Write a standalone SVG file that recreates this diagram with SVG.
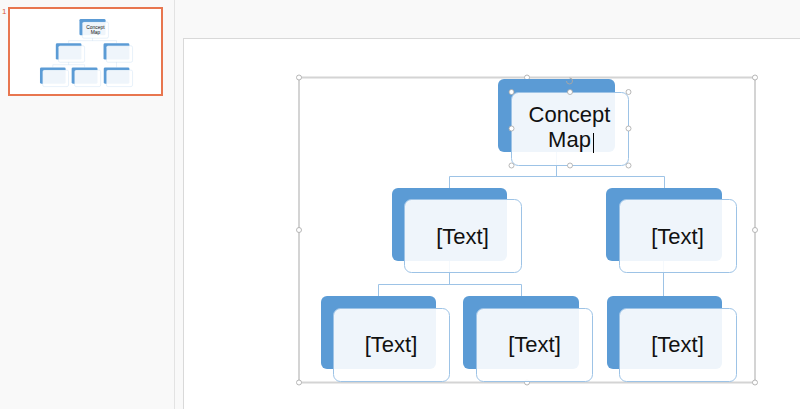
<svg xmlns="http://www.w3.org/2000/svg" width="800" height="409" viewBox="0 0 800 409">
<style>
.dark{fill:#5b9bd5}
.light{fill:#ffffff;fill-opacity:0.9;stroke:#9dc3e6;stroke-width:1}
.lbl{font-family:"Liberation Sans",Arial,sans-serif;font-size:22px;fill:#111;text-anchor:middle}
.conn{fill:none;stroke:#9dc3e6;stroke-width:1}
.h{fill:#fff;stroke:#a6a6a6;stroke-width:0.8}
</style>
<rect x="0" y="0" width="800" height="409" fill="#f9f9f9"/>
<line x1="174.5" y1="0" x2="174.5" y2="409" stroke="#e3e3e3"/>
<rect x="183.5" y="38.5" width="620" height="380" fill="#ffffff" stroke="#d9d9d9"/>

<g id="thumbnail-pane">
<text x="2" y="14" font-family="Liberation Sans,Arial,sans-serif" font-size="8" fill="#d9603b">1</text>
<rect x="9" y="8" width="153" height="87" fill="#ffffff" stroke="#e8764f" stroke-width="2"/>
<g transform="translate(-31.6,1.4) scale(0.223)">
<g class="conn" stroke-width="3">
<path d="M556.5 152V176M449.5 176H664M449.5 176V188M664 176V188M449.5 261V284M378.5 284H521M378.5 284V296M521 284V296M664 261V296"/>
</g>
<rect class="dark" x="498" y="79" width="117" height="73" rx="6"/>
<rect class="light" x="511" y="92" width="117" height="73" rx="7" stroke-width="4"/>
<rect class="dark" x="392" y="188" width="115" height="73" rx="6"/>
<rect class="light" x="404" y="199" width="117" height="74" rx="7" stroke-width="4"/>
<rect class="dark" x="606" y="188" width="116" height="73" rx="6"/>
<rect class="light" x="619" y="199" width="117" height="74" rx="7" stroke-width="4"/>
<rect class="dark" x="321" y="296" width="115" height="73" rx="6"/>
<rect class="light" x="333" y="308" width="116" height="74" rx="7" stroke-width="4"/>
<rect class="dark" x="463" y="296" width="116" height="73" rx="6"/>
<rect class="light" x="476" y="308" width="117" height="74" rx="7" stroke-width="4"/>
<rect class="dark" x="607" y="296" width="115" height="73" rx="6"/>
<rect class="light" x="619" y="308" width="117" height="74" rx="7" stroke-width="4"/>
<text class="lbl" x="569.5" y="122">Concept</text>
<text class="lbl" x="569.5" y="147">Map</text>
</g>
</g>

<g id="frame">
<rect x="299" y="77.5" width="456" height="305" fill="none" stroke="#d4d4d4" stroke-width="2"/>
<circle class="h" cx="299" cy="77.5" r="2.5"/>
<circle class="h" cx="527" cy="77.5" r="2.5"/>
<circle class="h" cx="755" cy="77.5" r="2.5"/>
<circle class="h" cx="299" cy="230" r="2.5"/>
<circle class="h" cx="755" cy="230" r="2.5"/>
<circle class="h" cx="299" cy="382.5" r="2.5"/>
<circle class="h" cx="527" cy="382.5" r="2.5"/>
<circle class="h" cx="755" cy="382.5" r="2.5"/>
</g>

<g id="connectors" class="conn">
<path d="M556.5 152V176.5M449.5 176.5H664.5M449.5 176.5V188M664.5 176.5V188"/>
<path d="M449.5 261V284.5M378.5 284.5H521.5M378.5 284.5V296M521.5 284.5V296"/>
<path d="M663.5 261V296"/>
</g>

<g id="node-root">
<rect class="dark" x="498" y="79" width="117" height="73" rx="6"/>
<rect class="light" x="511.5" y="92.5" width="117" height="73" rx="7"/>
<text class="lbl" x="569.5" y="122">Concept</text>
<text class="lbl" x="569.5" y="147">Map</text>
<line x1="593.5" y1="133" x2="593.5" y2="153" stroke="#000" stroke-width="1"/>
<g>
<circle class="h" cx="511.5" cy="92" r="2.5"/>
<circle class="h" cx="570" cy="92" r="2.5"/>
<circle class="h" cx="628.5" cy="92" r="2.5"/>
<circle class="h" cx="511.5" cy="128.5" r="2.5"/>
<circle class="h" cx="628.5" cy="128.5" r="2.5"/>
<circle class="h" cx="511.5" cy="165.5" r="2.5"/>
<circle class="h" cx="570" cy="165.5" r="2.5"/>
<circle class="h" cx="628.5" cy="165.5" r="2.5"/>
<path d="M566.5 81a3 3 0 1 0 3-3" fill="none" stroke="#a6a6a6" stroke-width="1"/>
</g>
</g>

<g id="node-l2-left">
<rect class="dark" x="392" y="188" width="115" height="73" rx="6"/>
<rect class="light" x="404.5" y="199.5" width="117" height="73" rx="7"/>
<text class="lbl" x="462.5" y="244">[Text]</text>
</g>

<g id="node-l2-right">
<rect class="dark" x="606" y="188" width="116" height="73" rx="6"/>
<rect class="light" x="619.5" y="199.5" width="117" height="73" rx="7"/>
<text class="lbl" x="677.5" y="244">[Text]</text>
</g>

<g id="node-l3-left">
<rect class="dark" x="321" y="296" width="115" height="73" rx="6"/>
<rect class="light" x="333.5" y="308.5" width="116" height="73" rx="7"/>
<text class="lbl" x="391" y="352">[Text]</text>
</g>

<g id="node-l3-mid">
<rect class="dark" x="463" y="296" width="116" height="73" rx="6"/>
<rect class="light" x="476.5" y="308.5" width="116" height="73" rx="7"/>
<text class="lbl" x="534.5" y="352">[Text]</text>
</g>

<g id="node-l3-right">
<rect class="dark" x="607" y="296" width="115" height="73" rx="6"/>
<rect class="light" x="619.5" y="308.5" width="117" height="73" rx="7"/>
<text class="lbl" x="677.5" y="352">[Text]</text>
</g>
</svg>
